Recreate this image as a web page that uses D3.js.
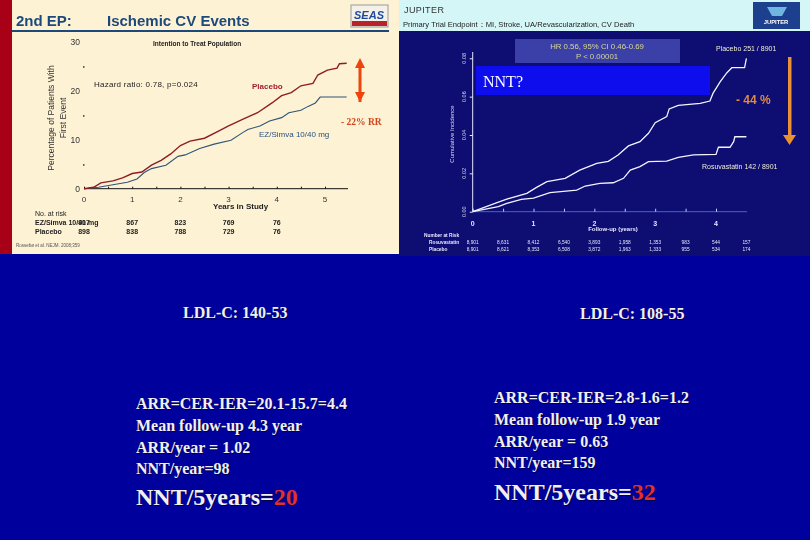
<!DOCTYPE html>
<html>
<head>
<meta charset="utf-8">
<script src="https://cdn.jsdelivr.net/npm/d3@7"></script>
<style>
html, body { margin: 0; padding: 0; background: #00009c; }
svg { display: block; }
</style>
</head>
<body>
<div id="chart"></div>
<script>
// left trial (SEAS)
const seasTicksX = [0, 1, 2, 3, 4, 5];
const seasTicksY = [0, 10, 20, 30];
const seasPlacebo = [[0,0],[0.2,0.3],[0.35,1.2],[0.6,1.6],[0.8,2.2],[1,3.1],[1.2,3.4],[1.4,4.8],[1.6,5.8],[1.8,7.1],[2,8.8],[2.2,9.7],[2.5,10.3],[2.8,11.8],[3,12.8],[3.3,14.2],[3.6,15.5],[3.9,17.5],[4.1,19],[4.3,19.6],[4.5,21],[4.75,21.5],[4.85,23.2],[5.05,24.2],[5.25,24.6],[5.3,25.5],[5.45,25.6]];
const seasEzSimva = [[0,0],[0.3,0.3],[0.6,0.8],[0.9,1.3],[1.1,2],[1.25,3.3],[1.4,4.1],[1.7,4.8],[1.95,6.6],[2.1,6.9],[2.4,8.2],[2.7,9.1],[3.05,9.9],[3.3,11.5],[3.4,12.1],[3.65,12.8],[3.85,13.8],[4.1,14.5],[4.25,15.5],[4.5,16],[4.65,16.8],[4.8,17.5],[4.9,18.7],[5.45,18.7]];
const seasRiskEz = ["917", "867", "823", "769", "76"];
const seasRiskPlacebo = ["898", "838", "788", "729", "76"];

// right trial (JUPITER)
const jupTicksX = [0, 1, 2, 3, 4];
const jupTicksY = [0, 0.02, 0.04, 0.06, 0.08];
const jupPlacebo = [[0,0],[0.4,0.0047],[0.56,0.0066],[0.89,0.0096],[1.05,0.0127],[1.22,0.0157],[1.52,0.0174],[1.76,0.0217],[2.04,0.0252],[2.23,0.0263],[2.39,0.0296],[2.56,0.0343],[2.75,0.0365],[2.89,0.0409],[3,0.0464],[3.19,0.0496],[3.23,0.0536],[3.38,0.0555],[3.74,0.0565],[3.9,0.0577],[3.95,0.0617],[4.07,0.0678],[4.18,0.0725],[4.26,0.0751],[4.47,0.0751],[4.5,0.08]];
const jupRosuva = [[0,0],[0.42,0.0026],[0.56,0.0043],[0.8,0.0064],[1,0.0071],[1.27,0.0099],[1.71,0.0113],[1.85,0.0134],[2.09,0.0148],[2.31,0.0151],[2.48,0.0174],[2.59,0.0217],[2.75,0.0235],[2.89,0.0261],[3.19,0.0264],[3.38,0.0283],[3.63,0.0296],[4,0.0299],[4.04,0.0336],[4.23,0.0336],[4.29,0.0365],[4.31,0.0391],[4.5,0.0391]];
const jupRiskRosuva = ["8,901", "8,631", "8,412", "6,540", "3,893", "1,958", "1,353", "983", "544", "157"];
const jupRiskPlacebo = ["8,901", "8,621", "8,353", "6,508", "3,872", "1,963", "1,333", "955", "534", "174"];

const width = 810;
const height = 540;
const sans = "Arial, 'Liberation Sans', sans-serif";
const serif = "'Times New Roman', 'Liberation Serif', serif";

const svg = d3.select("#chart").append("svg")
    .attr("width", width)
    .attr("height", height);

svg.append("rect").attr("width", width).attr("height", height).attr("fill", "#00009c");

const defs = svg.append("defs");
defs.append("filter").attr("id", "soft")
    .append("feGaussianBlur").attr("stdDeviation", 0.35);

function label(g, x, y, text, size, color, opts = {}) {
    return g.append("text")
        .attr("x", x)
        .attr("y", y)
        .attr("font-family", opts.family || sans)
        .attr("font-size", size)
        .attr("font-weight", opts.weight || "normal")
        .attr("text-anchor", opts.anchor || "start")
        .attr("fill", color)
        .text(text);
}

// ---------- left panel ----------
const left = svg.append("g").attr("filter", "url(#soft)");
left.append("rect").attr("x", 0).attr("y", 0).attr("width", 12).attr("height", 254).attr("fill", "#a80016");
left.append("rect").attr("x", 12).attr("y", 0).attr("width", 387).attr("height", 254).attr("fill", "#fdf2d4");
left.append("rect").attr("x", 12).attr("y", 30).attr("width", 377).attr("height", 2).attr("fill", "#1f4a7c");

label(left, 16, 26, "2nd EP:", 15, "#1f4a7c", {weight: "bold"});
label(left, 107, 26, "Ischemic CV Events", 15, "#1f4a7c", {weight: "bold"});

// logo
left.append("rect").attr("x", 351).attr("y", 5).attr("width", 37).attr("height", 22).attr("fill", "#f4f0ea").attr("stroke", "#999");
label(left, 369, 19, "SEAS", 11, "#1f4a9c", {weight: "bold", anchor: "middle"}).attr("font-style", "italic");
left.append("rect").attr("x", 352).attr("y", 21).attr("width", 35).attr("height", 5).attr("fill", "#b8202a");

const sx = d3.scaleLinear().domain([0, 5]).range([84, 325]);
const sy = d3.scaleLinear().domain([0, 30]).range([188.7, 41.7]);

const sAxisX = left.append("g")
    .attr("transform", "translate(0,188.7)")
    .call(d3.axisBottom(sx).tickValues(d3.range(0, 5.5, 0.5)).tickSize(-2).tickFormat(""));
sAxisX.select(".domain").attr("d", "M84,0H348").attr("stroke", "#111");
sAxisX.selectAll("line").attr("stroke", "#111");
seasTicksX.forEach(d => label(left, sx(d), 202, d, 8, "#333", {anchor: "middle"}));

seasTicksY.forEach(d => label(left, 80, sy(d) + 3.5, d, 8.5, "#333", {anchor: "end"}));
[5, 15, 25].forEach(d => left.append("rect").attr("x", 83).attr("y", sy(d)).attr("width", 1.5).attr("height", 1.5).attr("fill", "#333"));

left.append("text")
    .attr("transform", "translate(54,118) rotate(-90)")
    .attr("font-family", sans).attr("font-size", 8.5).attr("fill", "#333")
    .attr("text-anchor", "middle")
    .selectAll("tspan").data(["Percentage of Patients With", "First Event"]).join("tspan")
    .attr("x", 0).attr("dy", (d, i) => i ? 12 : 0).text(d => d);

label(left, 153, 46, "Intention to Treat Population", 6.5, "#222", {weight: "bold"});
label(left, 94, 87, "Hazard ratio:  0.78,  p=0.024", 8, "#222").style("letter-spacing", "0.25px");
label(left, 252, 89, "Placebo", 8, "#a02030", {weight: "bold"});
label(left, 259, 137, "EZ/Simva 10/40 mg", 8, "#2a5080");
label(left, 213, 209, "Years in Study", 8, "#222", {weight: "bold", anchor: "start"});

const sLine = d3.line().x(d => sx(d[0])).y(d => sy(d[1]));
left.append("path").datum(seasEzSimva).attr("d", sLine).attr("fill", "none").attr("stroke", "#2f5478").attr("stroke-width", 1.1);
left.append("path").datum(seasPlacebo).attr("d", sLine).attr("fill", "none").attr("stroke", "#8f1c26").attr("stroke-width", 1.4);

// double arrow
const arrow = left.append("g").attr("fill", "#ee4410");
arrow.append("rect").attr("x", 358.5).attr("y", 64).attr("width", 3).attr("height", 38);
arrow.append("path").attr("d", "M360,58L365,68H355Z");
arrow.append("path").attr("d", "M360,102L365,92H355Z");
label(left, 341, 125, "- 22% RR", 9.5, "#d0451c", {family: serif, weight: "bold"});

label(left, 35, 216, "No. at risk", 7, "#222");
label(left, 35, 225, "EZ/Simva 10/40 mg", 7, "#222", {weight: "bold"});
label(left, 35, 234, "Placebo", 7, "#222", {weight: "bold"});
seasRiskEz.forEach((d, i) => label(left, sx(i), 225, d, 7, "#222", {weight: "bold", anchor: "middle"}));
seasRiskPlacebo.forEach((d, i) => label(left, sx(i), 234, d, 7, "#222", {weight: "bold", anchor: "middle"}));
label(left, 16, 247, "Rossebø et al. NEJM. 2008;359", 4.5, "#555");

// ---------- right panel ----------
const right = svg.append("g").attr("filter", "url(#soft)");
right.append("rect").attr("x", 399).attr("y", 0).attr("width", 411).attr("height", 31).attr("fill", "#d4f6f6");
right.append("rect").attr("x", 399).attr("y", 31).attr("width", 411).attr("height", 225).attr("fill", "#0a0a72");

label(right, 404, 13, "JUPITER", 9, "#333").style("letter-spacing", "0.4px");
label(right, 403, 27, "Primary Trial Endpoint：MI, Stroke, UA/Revascularization, CV Death", 7.6, "#222");

right.append("rect").attr("x", 753).attr("y", 2).attr("width", 47).attr("height", 27).attr("fill", "#1e3f8e");
right.append("path").attr("d", "M767,7H787L782,16H772Z").attr("fill", "#6fb4e0");
label(right, 776, 24, "JUPITER", 5.8, "#fff", {weight: "bold", anchor: "middle"});

right.append("rect").attr("x", 515).attr("y", 39).attr("width", 165).attr("height", 24).attr("fill", "#3a3fa8");
label(right, 597, 49, "HR 0.56, 95% CI 0.46-0.69", 7.8, "#d8d890", {anchor: "middle"});
label(right, 597, 59, "P < 0.00001", 7.8, "#d8d890", {anchor: "middle"});

const jx = d3.scaleLinear().domain([0, 4]).range([472.7, 716]);
const jy = d3.scaleLinear().domain([0, 0.08]).range([211.7, 58.3]);

const jAxisX = right.append("g")
    .attr("transform", "translate(0,211.7)")
    .call(d3.axisBottom(jx).tickValues(d3.range(0, 4.5, 0.5)).tickSize(-3).tickFormat(""));
jAxisX.select(".domain").attr("d", "M472.7,0H747").attr("stroke", "#5560c8");
jAxisX.selectAll("line").attr("stroke", "#c8ccff");
jupTicksX.forEach(d => label(right, jx(d), 226, d, 7, "#e8e8ff", {weight: "bold", anchor: "middle"}));

const jAxisY = right.append("g")
    .attr("transform", "translate(472.7,0)")
    .call(d3.axisLeft(jy).tickValues(jupTicksY).tickSize(3).tickFormat(""));
jAxisY.select(".domain").attr("d", "M0,52V211.7").attr("stroke", "#e8e8ff");
jAxisY.selectAll("line").attr("stroke", "#e8e8ff");
jupTicksY.forEach(d => {
    right.append("text")
        .attr("transform", `translate(466,${jy(d)}) rotate(-90)`)
        .attr("font-family", sans).attr("font-size", 5.5).attr("fill", "#dde")
        .attr("text-anchor", "middle")
        .text(d3.format(".2f")(d));
});
right.append("text")
    .attr("transform", "translate(454,134) rotate(-90)")
    .attr("font-family", sans).attr("font-size", 6).attr("fill", "#dde")
    .attr("text-anchor", "middle")
    .text("Cumulative Incidence");

const jLine = d3.line().x(d => jx(d[0])).y(d => jy(d[1]));
right.append("path").datum(jupPlacebo).attr("d", jLine).attr("fill", "none").attr("stroke", "#f4f4ff").attr("stroke-width", 1.3);
right.append("path").datum(jupRosuva).attr("d", jLine).attr("fill", "none").attr("stroke", "#f4f4ff").attr("stroke-width", 1.3);

right.append("rect").attr("x", 476).attr("y", 66).attr("width", 234).attr("height", 29).attr("fill", "#0a0aee");
label(right, 483, 87, "NNT?", 16, "#fff", {family: serif});

label(right, 716, 51, "Placebo 251 / 8901", 7, "#f0f0d0");
label(right, 702, 169, "Rosuvastatin 142 / 8901", 7, "#f0f0d0");
label(right, 736, 104, "- 44 %", 12, "#e08a40", {weight: "bold"});

const down = right.append("g").attr("fill", "#e99236");
down.append("rect").attr("x", 788).attr("y", 57).attr("width", 3.5).attr("height", 78);
down.append("path").attr("d", "M783,135H796L789.5,145Z");

label(right, 541, 231, "Follow-up (years)", 6, "#e8e8ff", {weight: "bold", anchor: "middle"}).attr("x", 613);
label(right, 424, 237, "Number at Risk", 4.8, "#e8e8ff", {weight: "bold"});
label(right, 429, 244, "Rosuvastatin", 4.8, "#e8e8ff", {weight: "bold"});
label(right, 429, 251, "Placebo", 4.8, "#e8e8ff", {weight: "bold"});
jupRiskRosuva.forEach((d, i) => label(right, jx(i / 2), 244, d, 4.8, "#e8e8ff", {anchor: "middle"}));
jupRiskPlacebo.forEach((d, i) => label(right, jx(i / 2), 251, d, 4.8, "#e8e8ff", {anchor: "middle"}));

// ---------- bottom text ----------
const txt = "#f0f0f0";
const textShadow = "1px 1px 0 #000050";
const bold = {family: serif, weight: "bold"};
const bottom = svg.append("g").style("text-shadow", textShadow);

label(bottom, 183, 318, "LDL-C: 140-53", 16, txt, bold);
label(bottom, 136, 409, "ARR=CER-IER=20.1-15.7=4.4", 16, txt, bold);
label(bottom, 136, 431, "Mean follow-up 4.3 year", 16, txt, bold);
label(bottom, 136, 453, "ARR/year = 1.02", 16, txt, bold);
label(bottom, 136, 474, "NNT/year=98", 16, txt, bold);
const n1 = label(bottom, 136, 505, "NNT/5years=", 24, txt, bold);
n1.append("tspan").attr("fill", "#e03030").text("20");

label(bottom, 580, 319, "LDL-C: 108-55", 16, txt, bold);
label(bottom, 494, 403, "ARR=CER-IER=2.8-1.6=1.2", 16, txt, bold);
label(bottom, 494, 425, "Mean follow-up 1.9 year", 16, txt, bold);
label(bottom, 494, 447, "ARR/year = 0.63", 16, txt, bold);
label(bottom, 494, 468, "NNT/year=159", 16, txt, bold);
const n2 = label(bottom, 494, 500, "NNT/5years=", 24, txt, bold);
n2.append("tspan").attr("fill", "#e03030").text("32");
</script>
</body>
</html>
